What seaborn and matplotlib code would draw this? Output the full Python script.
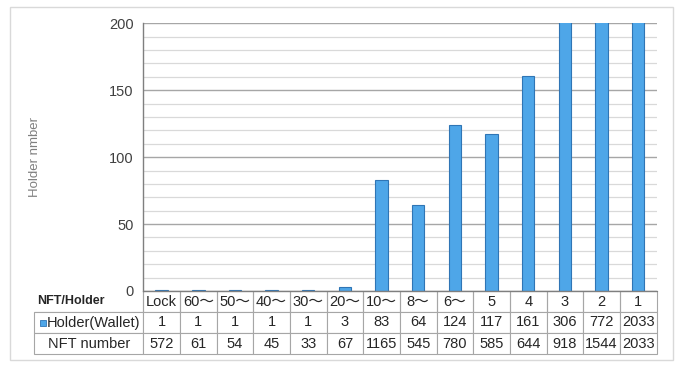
import numpy as np
import pandas as pd
import matplotlib
matplotlib.use('Agg')
import matplotlib.pyplot as plt
from matplotlib.patches import Rectangle
from matplotlib.ticker import MultipleLocator
import seaborn as sns

# values
categories = ['Lock', '60〜', '50〜', '40〜', '30〜', '20〜', '10〜', '8〜', '6〜',
              '5', '4', '3', '2', '1']
holders = [1, 1, 1, 1, 1, 3, 83, 64, 124, 117, 161, 306, 772, 2033]
nft_numbers = [572, 61, 54, 45, 33, 67, 1165, 545, 780, 585, 644, 918, 1544, 2033]
y_ticks = [0, 50, 100, 150, 200]

bar_color = '#4ea6e8'
bar_edge = '#2f75b5'
grid_major = '#a6a6a6'
grid_minor = '#d9d9d9'
text_color = '#262626'

sns.set_style('white')
plt.rcParams['font.family'] = ['Liberation Sans', 'Noto Sans CJK JP']

df = pd.DataFrame({'label': categories, 'holders': holders})

fig = plt.figure(figsize=(6.8, 3.7), dpi=100)
ax = fig.add_axes([143.3 / 680, 1 - 291 / 370, 513.2 / 680, 267.7 / 370])

sns.barplot(data=df, x='label', y='holders', order=categories, color=bar_color,
            edgecolor=bar_edge, linewidth=0.8, width=0.34, saturation=1, ax=ax)

ax.set_xlim(-0.5, len(categories) - 0.5)
ax.set_ylim(0, 200)
ax.set_yticks(y_ticks)
ax.yaxis.set_minor_locator(MultipleLocator(10))
ax.grid(which='minor', axis='y', color=grid_minor, linewidth=0.9)
ax.grid(which='major', axis='y', color=grid_major, linewidth=1.0)
ax.set_axisbelow(True)
ax.tick_params(axis='y', which='both', length=0, pad=7, labelsize=10.5, labelcolor='#404040')
ax.tick_params(axis='x', length=0, labelbottom=False)
ax.set_xlabel('')
ax.set_ylabel('Holder nmber', fontsize=9.5, color='#7f7f7f')
ax.yaxis.set_label_coords(-0.2, 0.5)
for side in ['top', 'right', 'bottom']:
    ax.spines[side].set_visible(False)
ax.spines['left'].set_color('#7f7f7f')
ax.spines['left'].set_linewidth(1.0)

# data table under the bars
cell_text = [[''] + categories,
             [''] + [str(v) for v in holders],
             ['NFT number'] + [str(v) for v in nft_numbers]]
col_widths = [109] + [36.66] * len(categories)
tbl = ax.table(cellText=cell_text, cellLoc='center', colWidths=col_widths,
               bbox=[-109 / 513.2, -63 / 267.7, 622.2 / 513.2, 63 / 267.7])
tbl.auto_set_font_size(False)
tbl.set_fontsize(10.5)
for (r, c), cell in tbl.get_celld().items():
    cell.set_edgecolor('#a6a6a6')
    cell.set_linewidth(0.8)
    cell.get_text().set_color(text_color)
    if r == 0 and c > 0:
        cell.visible_edges = 'BRL'
tbl[0, 0].visible_edges = 'BR'

# axis line on top of the table
ax.axhline(0, color='#7f7f7f', linewidth=1.0, clip_on=False, zorder=5)

# corner header, left aligned
ax.text((37 - 143.3) / 513.2, -10.5 / 267.7, 'NFT/Holder', fontsize=9,
        fontweight='bold', color=text_color, ha='left', va='center',
        transform=ax.transAxes)

# legend key in the holder row
row_mid = -(313 + 333.5) / 2 + 291
ax.plot([(42.5 - 143.3) / 513.2], [row_mid / 267.7], marker='s', markersize=5,
        color=bar_color, markeredgecolor=bar_edge, markeredgewidth=0.6,
        transform=ax.transAxes, clip_on=False)
ax.text((47 - 143.3) / 513.2, row_mid / 267.7, 'Holder(Wallet)', fontsize=10.5,
        color=text_color, ha='left', va='center', transform=ax.transAxes)

fig.add_artist(Rectangle((10 / 680, 1 - 360 / 370), 663 / 680, 353 / 370,
                         transform=fig.transFigure, fill=False,
                         edgecolor='#d9d9d9', linewidth=1.0))

fig.savefig('out.png', dpi=100)
